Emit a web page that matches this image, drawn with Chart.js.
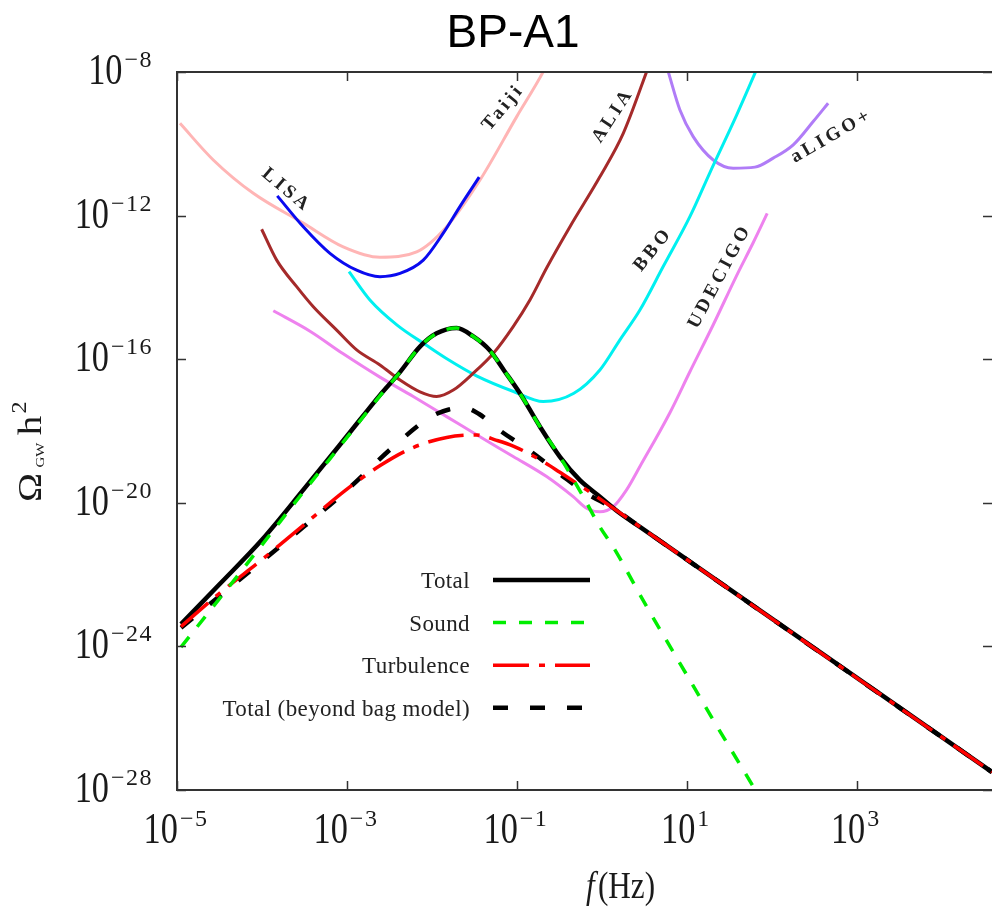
<!DOCTYPE html>
<html>
<head>
<meta charset="utf-8">
<title>BP-A1</title>
<script src="https://cdn.jsdelivr.net/npm/chart.js@4.4.1/dist/chart.umd.min.js"></script>
<style>
  html, body { margin: 0; padding: 0; background: #fff; }
  #wrap { width: 992px; height: 920px; }
</style>
</head>
<body>
<div id="wrap"><canvas id="gwChart" width="992" height="920"></canvas></div>
<script>
// values, stored as log10 (f in Hz, Omega_GW h^2)
const xTickExp = [-5, -3, -1, 1, 3];
const yTickExp = [-28, -24, -20, -16, -12, -8];

const totalLogF = [-4.953, -4.5, -4.0, -3.5, -3.0, -2.612, -2.376, -2.141, -1.945, -1.709, -1.518, -1.318, -1.15, -0.965, -0.729, -0.494, -0.259, -0.024, 0.212, 0.447, 4.59];
const totalLogOmega = [-23.38, -22.27, -21.03, -19.60, -18.14, -17.0, -16.36, -15.65, -15.28, -15.13, -15.36, -15.76, -16.32, -16.95, -17.88, -18.72, -19.37, -19.83, -20.29, -20.67, -27.50];

const soundLogF = [-4.953, -4.5, -4.0, -3.5, -3.0, -2.612, -2.376, -2.141, -1.945, -1.709, -1.518, -1.318, -1.15, -0.965, -0.729, -0.494, -0.22, -0.024, 0.13, 0.526, 0.918, 1.31, 1.781, 1.95];
const soundLogOmega = [-24.02, -22.67, -21.17, -19.66, -18.18, -17.02, -16.36, -15.65, -15.28, -15.13, -15.36, -15.76, -16.32, -16.95, -17.88, -18.72, -19.83, -20.67, -21.22, -22.89, -24.47, -26.05, -27.91, -28.6];

const turbLogF = [-4.953, -4.5, -4.0, -3.5, -3.0, -2.6, -2.22, -1.827, -1.474, -1.239, -1.044, -0.729, -0.494, -0.18, 0.133, 0.447, 4.59];
const turbLogOmega = [-23.45, -22.52, -21.58, -20.6, -19.62, -18.95, -18.46, -18.18, -18.11, -18.26, -18.42, -18.8, -19.15, -19.64, -20.15, -20.67, -27.50];

const bagLogF = [-4.953, -4.5, -4.0, -3.5, -3.044, -2.455, -2.024, -1.8, -1.612, -1.45, -1.239, -0.808, -0.455, -0.18, 0.133, 0.447, 4.59];
const bagLogOmega = [-23.48, -22.6, -21.63, -20.65, -19.74, -18.44, -17.62, -17.40, -17.36, -17.52, -17.92, -18.62, -19.27, -19.74, -20.15, -20.67, -27.50];

const lisaLogF = [-3.82, -3.514, -3.2, -2.886, -2.612, -2.376, -2.102, -1.867, -1.671, -1.444];
const lisaLogOmega = [-11.45, -12.31, -13.05, -13.52, -13.70, -13.61, -13.24, -12.49, -11.75, -10.93];

const taijiLogF = [-4.965, -4.573, -4.102, -3.514, -3.044, -2.612, -2.18, -1.827, -1.435, -1.004, -0.69, -0.55];
const taijiLogOmega = [-9.43, -10.45, -11.38, -12.21, -12.87, -13.16, -13.01, -12.31, -11.01, -9.25, -7.99, -7.3];

const aliaLogF = [-4.004, -3.827, -3.592, -3.396, -3.121, -2.886, -2.612, -2.376, -2.141, -1.945, -1.749, -1.514, -1.279, -1.044, -0.847, -0.651, -0.376, -0.024, 0.251, 0.526, 0.6];
const aliaLogOmega = [-12.38, -13.24, -13.98, -14.54, -15.19, -15.74, -16.16, -16.58, -16.91, -17.04, -16.86, -16.39, -15.84, -15.09, -14.35, -13.46, -12.31, -10.92, -9.71, -7.99, -7.5];

const bboLogF = [-2.976, -2.73, -2.41, -2.06, -1.83, -1.47, -1.04, -0.69, -0.33, -0.024, 0.212, 0.447, 0.721, 1.035, 1.271, 1.585, 1.8, 1.9];
const bboLogOmega = [-13.56, -14.35, -15.05, -15.62, -15.98, -16.47, -16.90, -17.18, -16.95, -16.30, -15.46, -14.63, -13.42, -12.03, -10.80, -9.20, -8.04, -7.5];

const aligoLogF = [0.72, 0.78, 0.918, 1.074, 1.31, 1.545, 1.8, 2.015, 2.251, 2.486, 2.662];
const aligoLogOmega = [-7.52, -7.99, -9.06, -9.80, -10.45, -10.68, -10.65, -10.40, -10.03, -9.38, -8.87];

const udecigoLogF = [-3.867, -3.435, -3.044, -2.612, -2.22, -1.827, -1.435, -1.044, -0.651, -0.338, -0.18, -0.024, 0.133, 0.29, 0.447, 0.8, 1.035, 1.31, 1.585, 1.781, 1.945];
const udecigoLogOmega = [-14.65, -15.22, -15.85, -16.5, -17.04, -17.60, -18.16, -18.71, -19.27, -19.83, -20.15, -20.25, -20.11, -19.64, -18.99, -17.49, -16.35, -15.04, -13.67, -12.75, -11.94];

const detectorTags = [
    { text: 'LISA', x: 285, y: 189, angle: 40 },
    { text: 'Taiji', x: 502, y: 109, angle: -50 },
    { text: 'ALIA', x: 612, y: 117, angle: -57 },
    { text: 'BBO', x: 652, y: 251, angle: -51 },
    { text: 'UDECIGO', x: 719, y: 278, angle: -62 },
    { text: 'aLIGO+', x: 830, y: 137, angle: -30 }
];

function points(logF, logOmega) {
    return logF.map((f, i) => ({ x: Math.pow(10, f), y: Math.pow(10, logOmega[i]) }));
}

function curve(label, logF, logOmega, color, width, dash, inLegend) {
    return {
        label: label,
        data: points(logF, logOmega),
        borderColor: color,
        borderWidth: width,
        borderDash: dash,
        inLegend: inLegend,
        fill: false,
        pointRadius: 0,
        cubicInterpolationMode: 'monotone',
        borderCapStyle: 'butt',
        borderJoinStyle: 'round',
        clip: 0
    };
}

const serif = '"Liberation Serif", "DejaVu Serif", serif';

function drawPower(ctx, exp, x, baseline, align) {
    const base = '10';
    const sup = (exp < 0 ? '\u2212' : '') + Math.abs(exp);
    ctx.letterSpacing = '0px';
    ctx.font = '44px ' + serif;
    const wBase = ctx.measureText(base).width * 0.78;
    ctx.font = '24px ' + serif;
    ctx.letterSpacing = '1.5px';
    const wSup = ctx.measureText(sup).width;
    const total = wBase + 2 + wSup;
    const start = align === 'right' ? x - total : x - total / 2;
    ctx.fillText(sup, start + wBase + 2, baseline - 17);
    ctx.letterSpacing = '0px';
    ctx.save();
    ctx.translate(start, baseline);
    ctx.scale(0.78, 1);
    ctx.font = '44px ' + serif;
    ctx.fillText(base, 0, 0);
    ctx.restore();
}

const decorPlugin = {
    id: 'decor',
    afterDatasetsDraw(chart) {
        const ctx = chart.ctx;
        const area = chart.chartArea;
        const xs = chart.scales.x, ys = chart.scales.y;
        ctx.save();

        // frame
        ctx.strokeStyle = '#333';
        ctx.lineWidth = 2;
        ctx.beginPath();
        ctx.moveTo(area.left, area.top);
        ctx.lineTo(area.left, area.bottom);
        ctx.moveTo(area.left - 1, area.top);
        ctx.lineTo(area.right + 2, area.top);
        ctx.moveTo(area.left - 1, area.bottom);
        ctx.lineTo(area.right + 2, area.bottom);
        ctx.stroke();

        // inward ticks
        ctx.lineWidth = 1.5;
        ctx.beginPath();
        xTickExp.forEach(e => {
            const px = Math.round(xs.getPixelForValue(Math.pow(10, e))) + 0.5;
            ctx.moveTo(px, area.bottom); ctx.lineTo(px, area.bottom - 9);
            ctx.moveTo(px, area.top); ctx.lineTo(px, area.top + 9);
        });
        yTickExp.forEach(e => {
            const py = Math.round(ys.getPixelForValue(Math.pow(10, e))) + 0.5;
            ctx.moveTo(area.left, py); ctx.lineTo(area.left + 9, py);
            ctx.moveTo(area.right, py); ctx.lineTo(area.right - 9, py);
        });
        ctx.stroke();

        // tick labels
        ctx.fillStyle = '#1a1a1a';
        ctx.textAlign = 'left';
        ctx.textBaseline = 'alphabetic';
        xTickExp.forEach(e => {
            drawPower(ctx, e, xs.getPixelForValue(Math.pow(10, e)) - 1, 843, 'center');
        });
        yTickExp.forEach(e => {
            drawPower(ctx, e, 153, ys.getPixelForValue(Math.pow(10, e)) + 12, 'right');
        });

        // x axis title
        ctx.save();
        ctx.translate(586, 898);
        ctx.scale(0.82, 1);
        ctx.font = 'italic 38px ' + serif;
        ctx.fillText('f', 0, 0);
        const wf = ctx.measureText('f').width;
        ctx.font = '38px ' + serif;
        ctx.fillText('(Hz)', wf + 4, 0);
        ctx.restore();

        // y axis title
        ctx.save();
        ctx.translate(41, 502);
        ctx.rotate(-Math.PI / 2);
        ctx.scale(1.15, 1);
        ctx.font = '34px ' + serif;
        ctx.fillText('\u03A9', 0, 0);
        ctx.font = '13px ' + serif;
        ctx.fillText('GW', 30, 3);
        ctx.font = '34px ' + serif;
        ctx.fillText('h', 58, 0);
        ctx.font = '21px ' + serif;
        ctx.fillText('2', 77, -15);
        ctx.restore();

        // title
        ctx.fillStyle = '#000';
        ctx.textAlign = 'center';
        ctx.font = '46px "Liberation Sans", Arial, sans-serif';
        ctx.fillText('BP-A1', 513, 47);

        // detector tags
        ctx.fillStyle = '#222';
        ctx.font = 'bold 19px ' + serif;
        ctx.letterSpacing = '3.5px';
        ctx.textBaseline = 'middle';
        detectorTags.forEach(t => {
            ctx.save();
            ctx.translate(t.x, t.y);
            ctx.rotate(t.angle * Math.PI / 180);
            ctx.fillText(t.text, 2, 0);
            ctx.restore();
        });
        ctx.letterSpacing = '0px';

        // legend
        const rows = chart.data.datasets.filter(d => d.inLegend);
        const order = ['Total', 'Sound', 'Turbulence', 'Total (beyond bag model)'];
        ctx.font = '23px ' + serif;
        ctx.letterSpacing = '0.4px';
        order.forEach((name, i) => {
            const ds = rows.find(d => d.label === name);
            const y = 580 + i * 42.6;
            ctx.fillStyle = '#222';
            ctx.textAlign = 'right';
            ctx.fillText(name, 470, y + 2);
            ctx.strokeStyle = ds.borderColor;
            ctx.lineWidth = ds.borderWidth;
            ctx.setLineDash(ds.borderDash);
            ctx.beginPath();
            ctx.moveTo(493, y);
            ctx.lineTo(590, y);
            ctx.stroke();
        });
        ctx.setLineDash([]);
        ctx.letterSpacing = '0px';
        ctx.restore();
    }
};

const ctx = document.getElementById('gwChart').getContext('2d');

const gwChart = new Chart(ctx, {
    type: 'line',
    data: {
        datasets: [
            curve('Sound', soundLogF, soundLogOmega, '#00ee00', 3.5, [13, 13], true),
            curve('Turbulence', turbLogF, turbLogOmega, '#ff0000', 3.5, [36, 10, 6, 10], true),
            curve('Total (beyond bag model)', bagLogF, bagLogOmega, '#000000', 4.5, [15, 22], true),
            curve('Total', totalLogF, totalLogOmega, '#000000', 4.5, [], true),
            curve('LISA', lisaLogF, lisaLogOmega, '#0a0aef', 3, [], false),
            curve('Taiji', taijiLogF, taijiLogOmega, '#ffb5b5', 3, [], false),
            curve('ALIA', aliaLogF, aliaLogOmega, '#a52a2a', 3, [], false),
            curve('BBO', bboLogF, bboLogOmega, '#00f0f0', 3, [], false),
            curve('aLIGO+', aligoLogF, aligoLogOmega, '#b07cf7', 3, [], false),
            curve('UDECIGO', udecigoLogF, udecigoLogOmega, '#ee82ee', 3, [], false)
        ]
    },
    options: {
        responsive: false,
        devicePixelRatio: 1,
        animation: false,
        parsing: false,
        layout: { padding: { left: 177, top: 72, right: 0, bottom: 130 } },
        plugins: {
            legend: { display: false },
            tooltip: { enabled: false },
            title: { display: false }
        },
        scales: {
            x: { type: 'logarithmic', min: 1e-5, max: Math.pow(10, 4.59), display: false },
            y: { type: 'logarithmic', min: 1e-28, max: 1e-8, display: false }
        }
    },
    plugins: [decorPlugin]
});
</script>
</body>
</html>
